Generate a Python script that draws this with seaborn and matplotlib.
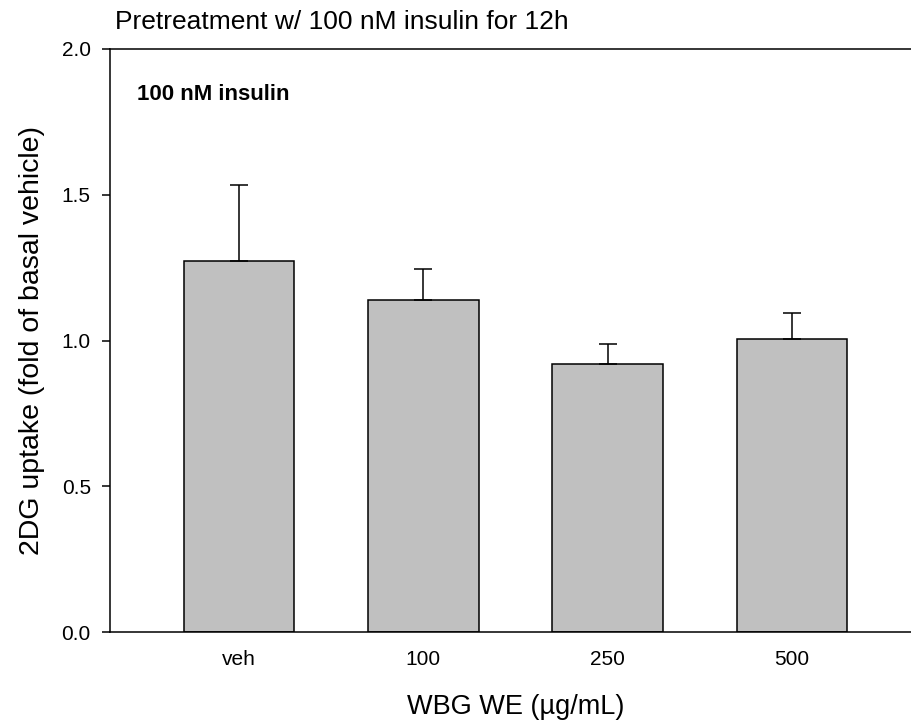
import pandas as pd
import matplotlib
matplotlib.use("Agg")
import matplotlib.pyplot as plt
import seaborn as sns

# data
doses = ["veh", "100", "250", "500"]
uptake = [1.273, 1.139, 0.920, 1.005]
sem = [0.260, 0.107, 0.067, 0.090]

df = pd.DataFrame({"dose": doses, "uptake": uptake})

sns.set_style("ticks")
plt.rcParams["font.family"] = ["Liberation Sans", "DejaVu Sans"]

fig = plt.figure(figsize=(9.12, 7.24), dpi=100)
ax = fig.add_axes([110 / 912, 92 / 724, 811 / 912, 583 / 724])

sns.barplot(data=df, x="dose", y="uptake", order=doses, color="#C0C0C0",
            saturation=1, width=0.6, edgecolor="black", linewidth=1.1,
            errorbar=None, ax=ax)
ax.errorbar(range(len(doses)), uptake, yerr=[[0] * len(sem), sem], fmt="none",
            ecolor="black", elinewidth=1.1, capsize=6.5, capthick=1.1)

ax.set_xlim(-0.70, 3.70)
ax.set_ylim(0, 2.0)
ax.set_yticks([0.0, 0.5, 1.0, 1.5, 2.0])
ax.set_yticklabels(["0.0", "0.5", "1.0", "1.5", "2.0"])
ax.tick_params(axis="y", labelsize=15, direction="out", length=5.8, width=1.1,
               pad=8, colors="black")
ax.tick_params(axis="x", labelsize=15, length=0, pad=13, colors="black")

for side in ["left", "bottom", "top"]:
    ax.spines[side].set_visible(True)
    ax.spines[side].set_linewidth(1.1)
    ax.spines[side].set_color("black")
ax.spines["right"].set_visible(False)

ax.set_xlabel("WBG WE (\u00b5g/mL)", fontsize=19.5, labelpad=18, color="black")
ax.set_ylabel("2DG uptake (fold of basal vehicle)", fontsize=20.5, labelpad=12,
              color="black")

fig.text(115 / 912, 1 - 22 / 724, "Pretreatment w/ 100 nM insulin for 12h",
         fontsize=19, ha="left", va="center", color="black")
ax.text(27 / 811, 1 - 45 / 583, "100 nM insulin", transform=ax.transAxes,
        fontsize=16, fontweight="bold", ha="left", va="center", color="black")

fig.savefig("out.png", dpi=100)
